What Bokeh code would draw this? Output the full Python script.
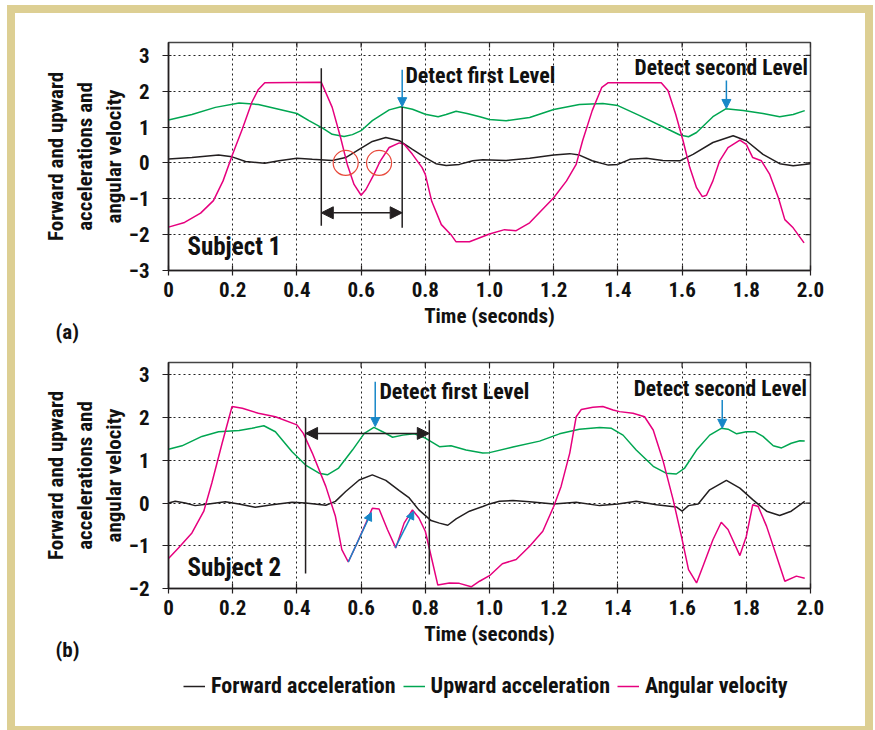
import math
from bokeh.plotting import figure
from bokeh.models import (FixedTicker, Label, Arrow, NormalHead,
                          Legend, LegendItem, Range1d, Title)
from bokeh.layouts import column
from bokeh.embed import file_html
from bokeh.resources import INLINE

# ---------------- data ----------------
# Subject 1
s1_fwd_x = [0, 0.073, 0.156, 0.198, 0.24, 0.30, 0.344, 0.40, 0.448, 0.51, 0.552, 0.594, 0.635, 0.677,
            0.719, 0.76, 0.80, 0.833, 0.865, 0.906, 0.948, 0.979, 1.052, 1.125, 1.20, 1.25, 1.28, 1.32,
            1.37, 1.40, 1.437, 1.489, 1.54, 1.593, 1.634, 1.696, 1.759, 1.80, 1.852, 1.904, 1.946, 2.0]
s1_fwd_y = [0.11, 0.15, 0.22, 0.17, 0.04, -0.01, 0.06, 0.13, 0.10, 0.07, 0.15, 0.38, 0.60, 0.71,
            0.62, 0.38, 0.15, -0.02, -0.07, -0.04, 0.06, 0.09, 0.07, 0.13, 0.22, 0.26, 0.22, 0.06,
            -0.06, -0.04, 0.10, 0.13, 0.07, 0.06, 0.24, 0.57, 0.76, 0.62, 0.24, -0.02, -0.08, -0.02]

s1_up_x = [0, 0.073, 0.146, 0.22, 0.28, 0.40, 0.4375, 0.48, 0.51, 0.547, 0.573, 0.60, 0.635, 0.6875,
           0.724, 0.76, 0.80, 0.84, 0.865, 0.896, 0.93, 0.97, 1.0, 1.052, 1.125, 1.20, 1.28, 1.353,
           1.40, 1.468, 1.54, 1.593, 1.62, 1.645, 1.696, 1.736, 1.79, 1.852, 1.904, 1.946, 1.982]
s1_up_y = [1.20, 1.35, 1.55, 1.67, 1.63, 1.38, 1.18, 0.97, 0.80, 0.74, 0.79, 0.90, 1.18, 1.48,
           1.57, 1.50, 1.36, 1.29, 1.35, 1.44, 1.38, 1.29, 1.21, 1.18, 1.27, 1.49, 1.63, 1.66,
           1.60, 1.32, 1.01, 0.78, 0.73, 0.85, 1.29, 1.51, 1.46, 1.38, 1.29, 1.35, 1.46]

s1_ang_x = [0, 0.05, 0.10, 0.14, 0.17, 0.20, 0.23, 0.26, 0.28, 0.30, 0.476, 0.51, 0.536, 0.557, 0.578,
            0.60, 0.615, 0.64, 0.66, 0.6875, 0.719, 0.734, 0.76, 0.79, 0.80, 0.82, 0.85, 0.88, 0.896,
            0.9375, 1.0, 1.047, 1.083, 1.125, 1.20, 1.24, 1.27, 1.29, 1.32, 1.35, 1.37, 1.535, 1.556,
            1.58, 1.603, 1.624, 1.645, 1.663, 1.676, 1.696, 1.717, 1.743, 1.78, 1.80, 1.82, 1.847,
            1.873, 1.90, 1.92, 1.946, 1.98]
s1_ang_y = [-1.79, -1.66, -1.40, -1.05, -0.50, 0.25, 0.95, 1.70, 2.05, 2.24, 2.25, 1.55, 0.71, -0.04, -0.60,
            -0.90, -0.74, -0.32, 0.06, 0.43, 0.56, 0.52, 0.24, -0.13, -0.32, -1.07, -1.72, -2.00, -2.20,
            -2.20, -1.98, -1.86, -1.89, -1.67, -0.97, -0.50, -0.04, 0.62, 1.46, 2.11, 2.24, 2.24, 2.02,
            1.36, 0.62, -0.13, -0.69, -0.94, -0.90, -0.50, 0.06, 0.43, 0.64, 0.52, 0.15, 0.06,
            -0.32, -0.97, -1.58, -1.81, -2.23]

# Subject 2
s2_fwd_x = [0, 0.021, 0.052, 0.083, 0.125, 0.177, 0.219, 0.27, 0.323, 0.385, 0.427, 0.49, 0.52, 0.552,
            0.594, 0.635, 0.677, 0.719, 0.75, 0.78, 0.818, 0.844, 0.87, 0.896, 0.9375, 0.979, 1.0,
            1.031, 1.073, 1.125, 1.20, 1.27, 1.343, 1.40, 1.457, 1.52, 1.582, 1.60, 1.62, 1.65, 1.686,
            1.738, 1.78, 1.82, 1.863, 1.904, 1.94, 1.982]
s2_fwd_y = [0.0, 0.04, 0.0, -0.06, -0.02, 0.03, -0.02, -0.10, -0.04, 0.02, 0.0, -0.05, 0.04, 0.27,
            0.54, 0.66, 0.53, 0.29, 0.12, -0.16, -0.41, -0.47, -0.52, -0.37, -0.19, -0.08, -0.02,
            0.04, 0.06, 0.03, -0.02, 0.02, -0.06, -0.02, 0.04, -0.04, -0.09, -0.19, -0.06, -0.02, 0.31,
            0.53, 0.35, 0.08, -0.19, -0.29, -0.19, 0.04]

s2_up_x = [0, 0.042, 0.104, 0.156, 0.22, 0.26, 0.297, 0.333, 0.385, 0.427, 0.469, 0.495, 0.53, 0.573,
           0.61, 0.64, 0.667, 0.698, 0.73, 0.766, 0.80, 0.844, 0.88, 0.927, 0.979, 1.0, 1.073, 1.156,
           1.218, 1.28, 1.343, 1.38, 1.416, 1.457, 1.51, 1.55, 1.582, 1.608, 1.645, 1.686, 1.722,
           1.743, 1.77, 1.80, 1.826, 1.852, 1.884, 1.91, 1.94, 1.967, 1.982]
s2_up_y = [1.26, 1.34, 1.56, 1.67, 1.70, 1.75, 1.81, 1.67, 1.20, 0.89, 0.70, 0.66, 0.82, 1.24,
           1.63, 1.77, 1.67, 1.54, 1.59, 1.62, 1.52, 1.32, 1.34, 1.24, 1.17, 1.18, 1.31, 1.45,
           1.62, 1.73, 1.77, 1.75, 1.59, 1.24, 0.86, 0.70, 0.68, 0.82, 1.24, 1.59, 1.75,
           1.73, 1.62, 1.67, 1.67, 1.56, 1.34, 1.29, 1.40, 1.46, 1.45]

s2_ang_x = [0, 0.031, 0.073, 0.11, 0.135, 0.167, 0.198, 0.23, 0.28, 0.333, 0.40, 0.42, 0.448, 0.49, 0.52,
            0.54, 0.56, 0.583, 0.615, 0.635, 0.656, 0.682, 0.708, 0.734, 0.76, 0.78, 0.80, 0.818, 0.839,
            0.875, 0.906, 0.943, 0.969, 1.0, 1.04, 1.083, 1.125, 1.166, 1.20, 1.223, 1.25, 1.27, 1.286,
            1.322, 1.353, 1.385, 1.405, 1.447, 1.483, 1.51, 1.54, 1.572, 1.598, 1.62, 1.645, 1.665,
            1.696, 1.722, 1.743, 1.78, 1.80, 1.82, 1.837, 1.863, 1.894, 1.92, 1.956, 1.982]
s2_ang_y = [-1.30, -1.05, -0.70, -0.19, 0.47, 1.40, 2.26, 2.22, 2.10, 2.02, 1.83, 1.63, 1.17, 0.39, -0.31,
            -1.09, -1.38, -1.01, -0.47, -0.12, -0.14, -0.62, -1.05, -0.47, -0.16, -0.35, -0.66, -1.24, -1.92,
            -1.87, -1.88, -1.96, -1.83, -1.70, -1.42, -1.32, -1.01, -0.66, -0.08, 0.39, 1.17, 2.02, 2.19,
            2.24, 2.26, 2.18, 2.14, 2.10, 2.02, 1.71, 1.01, 0.08, -0.78, -1.56, -1.87, -1.48,
            -0.86, -0.45, -0.62, -1.23, -0.78, -0.04, -0.08, -0.54, -1.24, -1.83, -1.71, -1.76]

# tick labels
x_ticks = [0, 0.2, 0.4, 0.6, 0.8, 1.0, 1.2, 1.4, 1.6, 1.8, 2.0]
x_tick_labels = ["0", "0.2", "0.4", "0.6", "0.8", "1.0", "1.2", "1.4", "1.6", "1.8", "2.0"]
y_ticks_a = [-3, -2, -1, 0, 1, 2, 3]
y_ticks_b = [-2, -1, 0, 1, 2, 3]

# annotation anchors (data units)
a_marks_x = [0.476, 0.728]
a_marks_top = [2.64, 1.57]
a_marks_bot = [-1.75, -1.81]
a_span_y = -1.39
a_circles_x = [0.552, 0.656]
a_circles_y = [0.0, 0.0]
a_detect = [(0.728, 2.60, 1.57), (1.738, 2.30, 1.52)]

b_marks_x = [0.427, 0.8125]
b_marks_top = [2.00, 1.94]
b_marks_bot = [-1.65, -1.67]
b_span_y = 1.63
b_detect = [(0.644, 2.84, 1.79), (1.725, 2.41, 1.75)]
b_rise = [(0.56, -1.38, 0.632, -0.22), (0.706, -1.05, 0.764, -0.19)]

# ---------------- style ----------------
FONT = "Roboto Condensed, DejaVu Sans Condensed, sans-serif"
BLACK = "#231f20"
GREEN = "#00a651"
MAGENTA = "#e6007e"
BLUE = "#1787c8"
RED = "#e84a3c"
GOLD = "#ddcf93"
TXT = "#111111"
YLABEL = "Forward and upward\naccelerations and\nangular velocity"


def make_panel(fh, top_b, bot_b, yr, yt, fwd, up, ang, tag, tag_standoff):
    p = figure(frame_width=642, frame_height=fh, x_range=Range1d(0, 2.0), y_range=yr,
               output_backend="svg", toolbar_location=None,
               min_border_left=153, min_border_right=55,
               min_border_top=top_b, min_border_bottom=bot_b,
               background_fill_color="white", border_fill_color="white")
    p.outline_line_color = "#444444"
    p.outline_line_width = 1.5
    xa, ya = p.xaxis[0], p.yaxis[0]
    xa.ticker = FixedTicker(ticks=x_ticks)
    xa.major_label_overrides = {t: l for t, l in zip(x_ticks, x_tick_labels)}
    ya.ticker = FixedTicker(ticks=yt)
    ya.major_label_overrides = {t: (("\u2212" + str(-t)) if t < 0 else str(t)) for t in yt}
    for ax in (xa, ya):
        ax.axis_line_color = BLACK
        ax.axis_line_width = 1.5
        ax.major_tick_line_color = BLACK
        ax.major_tick_line_width = 1.2
        ax.minor_tick_line_color = None
        ax.major_label_text_font = FONT
        ax.major_label_text_font_style = "bold"
        ax.major_label_text_font_size = "21px"
        ax.major_label_text_color = TXT
        ax.axis_label_text_font = FONT
        ax.axis_label_text_font_style = "bold"
        ax.axis_label_text_color = TXT
    xa.major_tick_in = 5
    xa.major_tick_out = 5
    xa.major_label_standoff = 6
    ya.major_tick_in = 3
    ya.major_tick_out = 6
    ya.major_label_standoff = 13
    xa.axis_label = "Time (seconds)"
    xa.axis_label_text_font_size = "21px"
    xa.axis_label_standoff = 4
    ya.axis_label = YLABEL
    ya.axis_label_text_font_size = "21px"
    ya.axis_label_text_line_height = 1.2
    ya.axis_label_standoff = 0
    p.xgrid[0].ticker = FixedTicker(ticks=x_ticks)
    p.ygrid[0].ticker = FixedTicker(ticks=yt)
    for g in (p.xgrid[0], p.ygrid[0]):
        g.grid_line_color = "#222222"
        g.grid_line_dash = "2 3"
        g.grid_line_width = 1
    # mirrored inner ticks on the top and right frame edges (half clipped by the frame)
    p.scatter(x_ticks, [yr.end] * len(x_ticks), marker="dash", angle=math.pi / 2, size=10,
              line_color=BLACK, line_width=1.2)
    p.scatter([2.0] * len(yt), yt, marker="dash", size=10, line_color=BLACK, line_width=1.2)
    r1 = p.line(fwd[0], fwd[1], line_color=BLACK, line_width=1.5)
    r2 = p.line(up[0], up[1], line_color=GREEN, line_width=1.5)
    r3 = p.line(ang[0], ang[1], line_color=MAGENTA, line_width=1.5)
    p.add_layout(Title(text=tag, align="left", offset=-113, text_font=FONT, text_font_style="bold",
                       text_font_size="21px", text_color=TXT, standoff=tag_standoff), "below")
    return p, (r1, r2, r3)


def add_text(p, x, y, text, size="22px"):
    p.add_layout(Label(x=x, y=y, text=text, text_font=FONT,
                       text_font_style="bold", text_font_size=size, text_color=TXT,
                       text_baseline="middle", text_align="left"))


def double_arrow(p, x0, x1, y):
    p.add_layout(Arrow(x_start=x0, y_start=y, x_end=x1, y_end=y, line_color=BLACK, line_width=1.5,
                       start=NormalHead(size=12, fill_color=BLACK, line_color=BLACK),
                       end=NormalHead(size=12, fill_color=BLACK, line_color=BLACK)))


def blue_arrow(p, x0, y0, x1, y1, size=9):
    p.add_layout(Arrow(x_start=x0, y_start=y0, x_end=x1, y_end=y1, line_color=BLUE, line_width=1.5,
                       end=NormalHead(size=size, fill_color=BLUE, line_color=BLUE)))


# ---------------- panel (a) ----------------
p1, _ = make_panel(228, 29, 87, Range1d(-3, 3.36), y_ticks_a,
                   (s1_fwd_x, s1_fwd_y), (s1_up_x, s1_up_y), (s1_ang_x, s1_ang_y),
                   "(a)", -27)
p1.segment(a_marks_x, a_marks_top, a_marks_x, a_marks_bot, line_color=BLACK, line_width=1.5)
double_arrow(p1, a_marks_x[0], a_marks_x[1], a_span_y)
p1.scatter(a_circles_x, a_circles_y, marker="circle", size=25, fill_color=None,
           line_color=RED, line_width=1.2)
for (x, y0, y1) in a_detect:
    blue_arrow(p1, x, y0, x, y1)
add_text(p1, 0.738, 2.44, "Detect first Level")
add_text(p1, 1.452, 2.66, "Detect second Level", size="21.5px")
add_text(p1, 0.059, -2.32, "Subject 1", size="25px")

# ---------------- panel (b) ----------------
p2, rs = make_panel(226, 5, 77, Range1d(-2, 3.29), y_ticks_b,
                    (s2_fwd_x, s2_fwd_y), (s2_up_x, s2_up_y), (s2_ang_x, s2_ang_y),
                    "(b)", -27)
p2.segment(b_marks_x, b_marks_top, b_marks_x, b_marks_bot, line_color=BLACK, line_width=1.5)
double_arrow(p2, b_marks_x[0], b_marks_x[1], b_span_y)
for (x, y0, y1) in b_detect:
    blue_arrow(p2, x, y0, x, y1)
for (x0, y0, x1, y1) in b_rise:
    blue_arrow(p2, x0, y0, x1, y1, size=8)
add_text(p2, 0.657, 2.61, "Detect first Level")
add_text(p2, 1.449, 2.68, "Detect second Level", size="21.5px")
add_text(p2, 0.059, -1.50, "Subject 2", size="25px")

# ---------------- legend strip ----------------
p3 = figure(width=850, height=61, x_axis_type=None, y_axis_type=None, output_backend="svg",
            toolbar_location=None, min_border=0, outline_line_color=None,
            background_fill_color="white", border_fill_color="white")
l1 = p3.line(s2_fwd_x, s2_fwd_y, line_color=BLACK, line_width=1.5, visible=False)
l2 = p3.line(s2_up_x, s2_up_y, line_color=GREEN, line_width=1.5, visible=False)
l3 = p3.line(s2_ang_x, s2_ang_y, line_color=MAGENTA, line_width=1.5, visible=False)
legend = Legend(items=[LegendItem(label="Forward acceleration", renderers=[l1]),
                       LegendItem(label="Upward acceleration", renderers=[l2]),
                       LegendItem(label="Angular velocity", renderers=[l3])],
                orientation="horizontal", location=(15, 28), border_line_color=None,
                background_fill_alpha=0, label_text_font=FONT, label_text_font_style="bold",
                label_text_font_size="22px", label_text_color=TXT,
                glyph_width=22, label_standoff=6, spacing=7, padding=0, margin=0)
p3.add_layout(legend, "center")

layout = column(p1, p2, p3, margin=(13, 0, 0, 15),
                styles={"background-color": "white", "box-shadow": "0 0 0 8px " + GOLD})

open("out.html", "w").write(file_html(layout, INLINE))
